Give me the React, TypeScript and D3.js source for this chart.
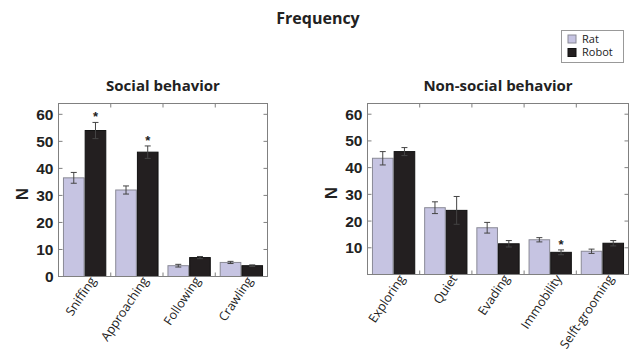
import React from 'react'
import * as d3 from 'd3'

const SERIES = ['Rat', 'Robot']
const COLORS = { Rat: '#c6c4e2', Robot: '#231f20' }
const STROKES = { Rat: '#8a8a96', Robot: '#111' }

// Social behavior
const socialCats = ['Sniffing', 'Approaching', 'Following', 'Crawling']
const socialRat = [36.5, 32, 4, 5.2]
const socialRatErr = [2, 1.5, 0.5, 0.4]
const socialRobot = [54, 46, 7, 4]
const socialRobotErr = [3, 2.3, 0.4, 0.3]
const socialStars = [true, true, false, false]

// Non-social behavior
const nonSocialCats = ['Exploring', 'Quiet', 'Evading', 'Immobility', 'Selft-grooming']
const nonSocialRat = [43.5, 25, 17.5, 13, 8.7]
const nonSocialRatErr = [2.5, 2.2, 2, 0.8, 0.8]
const nonSocialRobot = [46, 24, 11.5, 8.3, 11.7]
const nonSocialRobotErr = [1.5, 5.2, 1.2, 0.9, 1]
const nonSocialStars = [false, false, false, true, false]

const yTicksLeft = [0, 10, 20, 30, 40, 50, 60]
const yTicksRight = [10, 20, 30, 40, 50, 60]

const TICK_FONT = '"Liberation Sans", Arial, sans-serif'
const TEXT_FONT = '"Open Sans", "Noto Sans", sans-serif'

type PanelProps = {
  title: string
  cats: string[]
  rat: number[]
  ratErr: number[]
  robot: number[]
  robotErr: number[]
  stars: boolean[]
  yTicks: number[]
  x0: number
  x1: number
  yTop: number
  yBottom: number
}

const Panel = ({ title, cats, rat, ratErr, robot, robotErr, stars, yTicks, x0, x1, yTop, yBottom }: PanelProps) => {
  const xScale = d3.scaleBand<string>().domain(cats).range([x0, x1]).paddingInner(0.19).paddingOuter(0.095)
  const inner = d3.scaleBand<string>().domain(SERIES).range([0, xScale.bandwidth()]).paddingInner(0.05)
  const yScale = d3.scaleLinear().domain([0, 64]).range([yBottom, yTop])
  const frame = '#808080'

  const bars = cats.flatMap((c, i) => {
    const vals = { Rat: [rat[i], ratErr[i]], Robot: [robot[i], robotErr[i]] }
    return SERIES.map((s) => {
      const [v, e] = vals[s]
      const bx = (xScale(c) ?? 0) + (inner(s) ?? 0)
      const bw = inner.bandwidth()
      const cx = bx + bw / 2
      const yv = yScale(v)
      const yHi = yScale(v + e)
      const yLo = yScale(v - e)
      return (
        <g key={`${c}-${s}`}>
          <rect x={bx} y={yv} width={bw} height={yBottom - yv} fill={COLORS[s]} stroke={STROKES[s]} strokeWidth={1} />
          <line x1={cx} x2={cx} y1={yHi} y2={yLo} stroke="#444" strokeWidth={1} />
          <line x1={cx - 3} x2={cx + 3} y1={yHi} y2={yHi} stroke="#444" strokeWidth={1} />
          <line x1={cx - 3} x2={cx + 3} y1={yLo} y2={yLo} stroke="#444" strokeWidth={1} />
          {s === 'Robot' && stars[i] && (
            <text x={cx} y={yHi - 1} textAnchor="middle" fontSize={13} fontWeight="bold" fontFamily={TICK_FONT} fill="#222">
              *
            </text>
          )}
        </g>
      )
    })
  })

  const step = xScale.step()
  const boundaries = cats.slice(1).map((c) => (xScale(c) ?? 0) - (step - xScale.bandwidth()) / 2)

  return (
    <g>
      <text x={(x0 + x1) / 2} y={91} textAnchor="middle" fontSize={15} fontWeight="bold" fontFamily={TEXT_FONT} fill="#222">
        {title}
      </text>
      {bars}
      <rect x={x0} y={yTop} width={x1 - x0} height={yBottom - yTop} fill="none" stroke={frame} strokeWidth={1} />
      {yScale.ticks(7).filter((t) => t <= 60).map((t) => (
        <g key={t}>
          <line x1={x0} x2={x0 + 4} y1={yScale(t)} y2={yScale(t)} stroke={frame} />
          <line x1={x1} x2={x1 - 4} y1={yScale(t)} y2={yScale(t)} stroke={frame} />
        </g>
      ))}
      {yTicks.map((t) => (
        <text key={t} x={x0 - 5} y={yScale(t) + 5.5} textAnchor="end" fontSize={15.5} fontWeight="bold" fontFamily={TICK_FONT} fill="#222">
          {t}
        </text>
      ))}
      {boundaries.map((bx, i) => (
        <g key={i}>
          <line x1={bx} x2={bx} y1={yTop} y2={yTop + 4} stroke={frame} />
          <line x1={bx} x2={bx} y1={yBottom} y2={yBottom - 4} stroke={frame} />
        </g>
      ))}
      <text
        transform={`translate(${x0 - 31},${(yTop + yBottom) / 2 + 4}) rotate(-90)`}
        textAnchor="middle"
        fontSize={17}
        fontWeight="bold"
        fontFamily={TICK_FONT}
        fill="#222"
      >
        N
      </text>
      {cats.map((c) => {
        const ax = (xScale(c) ?? 0) + xScale.bandwidth() / 2 + 12
        const ay = yBottom + 4
        return (
          <text key={c} transform={`translate(${ax},${ay}) rotate(-56)`} textAnchor="end" fontSize={12.5} fontFamily={TEXT_FONT} fill="#222">
            {c}
          </text>
        )
      })}
    </g>
  )
}

export default function App() {
  return (
    <div style={{ position: 'fixed', left: 0, top: 0 }}>
      <svg width={630} height={349} style={{ display: 'block', background: '#fff' }}>
        <text x={318} y={24} textAnchor="middle" fontSize={16} fontWeight="bold" fontFamily={TEXT_FONT} fill="#222">
          Frequency
        </text>
        <g>
          <rect x={561.5} y={30.5} width={62} height={32} fill="#fff" stroke="#999" />
          {SERIES.map((s, i) => (
            <g key={s}>
              <rect x={568} y={35 + i * 13.5} width={8} height={8} fill={COLORS[s]} stroke={STROKES[s]} />
              <text x={582} y={42.5 + i * 13.5} fontSize={11} fontFamily={TEXT_FONT} fill="#222">
                {s}
              </text>
            </g>
          ))}
        </g>
        <Panel
          title="Social behavior"
          cats={socialCats}
          rat={socialRat}
          ratErr={socialRatErr}
          robot={socialRobot}
          robotErr={socialRobotErr}
          stars={socialStars}
          yTicks={yTicksLeft}
          x0={58.5}
          x1={267.5}
          yTop={103.5}
          yBottom={276.5}
        />
        <Panel
          title="Non-social behavior"
          cats={nonSocialCats}
          rat={nonSocialRat}
          ratErr={nonSocialRatErr}
          robot={nonSocialRobot}
          robotErr={nonSocialRobotErr}
          stars={nonSocialStars}
          yTicks={yTicksRight}
          x0={367.5}
          x1={628.5}
          yTop={103.5}
          yBottom={274.5}
        />
      </svg>
    </div>
  )
}
